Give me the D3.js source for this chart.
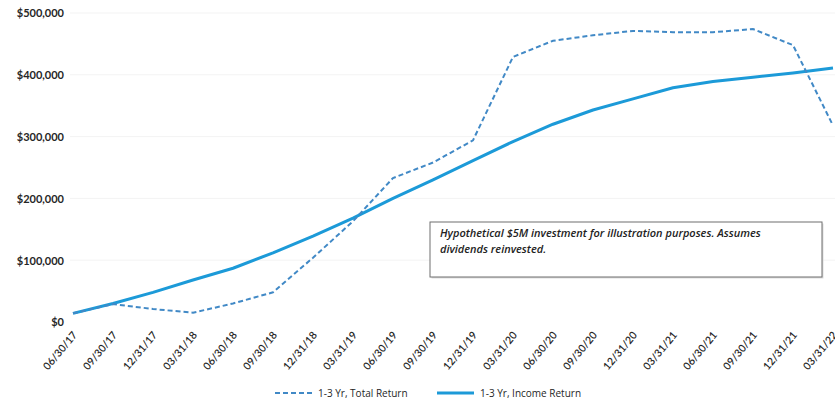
<!DOCTYPE html>
<html><head><meta charset="utf-8">
<script src="https://cdn.jsdelivr.net/npm/d3@7"></script>
<style>body{margin:0;background:#fff;overflow:hidden}svg{display:block}</style>
</head><body>
<svg id="c" width="835" height="405"></svg>
<script>
const dates = ["06/30/17","09/30/17","12/31/17","03/31/18","06/30/18","09/30/18","12/31/18","03/31/19","06/30/19","09/30/19","12/31/19","03/31/20","06/30/20","09/30/20","12/31/20","03/31/21","06/30/21","09/30/21","12/31/21","03/31/22"];
const totalReturn = [14000,29000,21000,15000,30000,48000,104000,163000,233000,258000,294000,429000,455000,464000,471000,469000,469000,474000,448000,318000];
const incomeReturn = [14000,30000,48000,68000,87000,112000,139000,168000,200000,230000,261000,292000,320000,343000,361000,379000,389000,396000,403000,411000];
const yTicks = [0,100000,200000,300000,400000,500000];
const seriesNames = ["1-3 Yr, Total Return","1-3 Yr, Income Return"];
const note = ["Hypothetical $5M investment for illustration purposes. Assumes","dividends reinvested."];

const svg = d3.select("#c");
const font = "Lato, 'DejaVu Sans', sans-serif";
const font2 = "'Open Sans', Lato, sans-serif";
const x = d3.scalePoint().domain(dates).range([73, 833]);
const y = d3.scaleLinear().domain([0, 500000]).range([322, 13]);

// gridlines
svg.append("g").selectAll("line").data(yTicks.slice(1)).join("line")
  .attr("x1", 70).attr("x2", 835).attr("y1", d => y(d)).attr("y2", d => y(d))
  .attr("stroke", "#f3f3f3").attr("stroke-width", 1);

// y axis
const ya = svg.append("g").attr("transform", "translate(64,0)")
  .call(d3.axisLeft(y).tickValues(yTicks).tickSize(0).tickPadding(0)
    .tickFormat(d => "$" + d3.format(",")(d)));
ya.select(".domain").remove();
ya.selectAll("text").attr("font-family", font).attr("font-size", 11).attr("font-weight", 700)
  .attr("fill", "#262626").attr("dy", "0.35em");

// x axis
const xa = svg.append("g").attr("transform", "translate(0,329)")
  .call(d3.axisBottom(x).tickSize(0).tickPadding(0));
xa.select(".domain").remove();
xa.selectAll("text").attr("font-family", font).attr("font-size", 10.5).attr("font-weight", 600)
  .attr("fill", "#262626").attr("text-anchor", "end")
  .attr("transform", "rotate(-50)").attr("dx", "-0.2em").attr("dy", "0.7em");

// lines
const line = d3.line().x((d, i) => x(dates[i])).y(d => y(d));
svg.append("path").datum(incomeReturn).attr("d", line).attr("fill", "none")
  .attr("stroke", "#1c9ad8").attr("stroke-width", 3).attr("stroke-linejoin", "round");
svg.append("path").datum(totalReturn).attr("d", line).attr("fill", "none")
  .attr("stroke", "#4189c6").attr("stroke-width", 2).attr("stroke-dasharray", "5,3");

// annotation
const bx = 430, by = 222, bw = 392, bh = 55;
svg.append("rect").attr("x", bx + 1.5).attr("y", by + 1.5).attr("width", bw).attr("height", bh).attr("fill", "#ddd");
svg.append("rect").attr("x", bx).attr("y", by).attr("width", bw).attr("height", bh)
  .attr("fill", "#fff").attr("stroke", "#6f6f6f").attr("stroke-width", 1);
svg.append("g").selectAll("text").data(note).join("text")
  .attr("x", bx + 10).attr("y", (d, i) => by + 15 + i * 16)
  .attr("font-family", font2).attr("font-size", 11).attr("font-style", "italic").attr("font-weight", 600)
  .attr("fill", "#222").text(d => d);

// legend
const lg = svg.append("g");
const items = [
  {name: seriesNames[0], x0: 275, dash: "5,3", w: 2, c: "#4189c6"},
  {name: seriesNames[1], x0: 437, dash: null, w: 3, c: "#1c9ad8"}
];
items.forEach(it => {
  lg.append("line").attr("x1", it.x0).attr("x2", it.x0 + 37).attr("y1", 393).attr("y2", 393)
    .attr("stroke", it.c).attr("stroke-width", it.w).attr("stroke-dasharray", it.dash);
  lg.append("text").attr("x", it.x0 + 43).attr("y", 393).attr("dy", "0.35em")
    .attr("font-family", font2).attr("font-size", 10).attr("fill", "#262626").text(it.name);
});
</script>
</body></html>
